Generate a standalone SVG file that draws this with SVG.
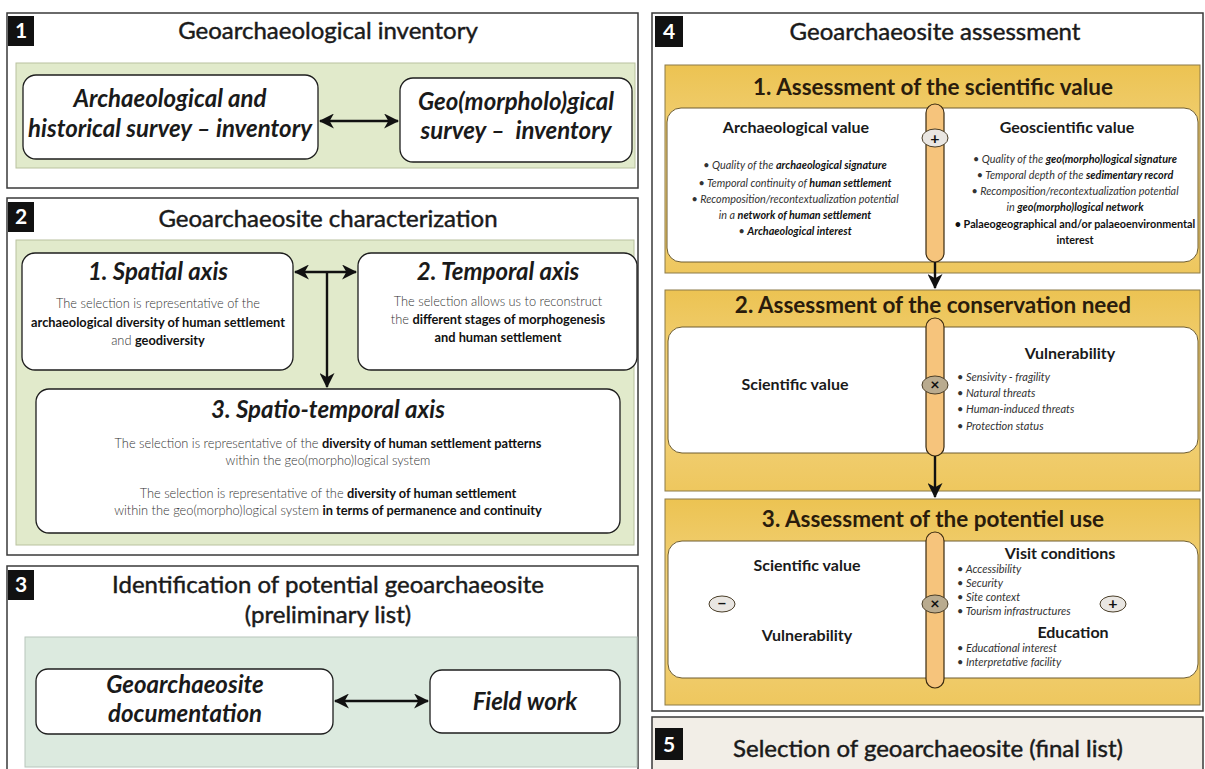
<svg xmlns="http://www.w3.org/2000/svg" width="1205" height="769" viewBox="0 0 1205 769">
<defs>
<marker id="ah" viewBox="0 0 14 14" refX="13" refY="7" markerWidth="15" markerHeight="15" markerUnits="userSpaceOnUse" orient="auto-start-reverse">
<path d="M0,0 L14,7 L0,14 L4,7 z" fill="#111"/>
</marker>
<linearGradient id="gold" x1="0" y1="0" x2="0" y2="1">
<stop offset="0" stop-color="#ecc352"/>
<stop offset="0.5" stop-color="#f3d584"/>
<stop offset="1" stop-color="#eec75e"/>
</linearGradient>
<style>
text{font-family:Lato,"Open Sans","Liberation Sans",sans-serif;fill:#1a1a1a}
.frame{fill:#fff;stroke:#3a3a3a;stroke-width:1.5}
.lbl{fill:#111}
.lbltx{fill:#fff;font-weight:700;font-size:21px;text-anchor:middle}
.ptitle{font-size:24px;text-anchor:middle;stroke:#1a1a1a;stroke-width:0.45}
.green{fill:#e1eacb;stroke:#b9c29f;stroke-width:1}
.teal{fill:#dceadf;stroke:#b8c6bc;stroke-width:1}
.node{fill:#fff;stroke:#1e1e1e;stroke-width:1.3}
.bi{font-weight:700;font-style:italic;font-size:24px;text-anchor:middle}
.body{font-size:12.8px;font-weight:300;text-anchor:middle;fill:#333}
.b{font-weight:700;fill:#111}
.band{fill:url(#gold);stroke:#8c7b48;stroke-width:1}
.wbox{fill:#fff;stroke:#6e5d30;stroke-width:1}
.stitle{font-size:22.5px;font-weight:700;text-anchor:middle;fill:#2a1c0c}
.sub{font-size:16px;font-weight:700;text-anchor:middle;fill:#1a1a1a}
.bul{font-size:11px;font-style:italic;fill:#333}
.bulc{font-size:10.8px;font-style:italic;fill:#333;text-anchor:middle}
.bar{fill:#f6c47c;stroke:#3a2a10;stroke-width:1.2}
.bx{fill:#b9ab8f;stroke:#4a3e28;stroke-width:1}
.bl{fill:#e9e6e2;stroke:#4a3e28;stroke-width:1}
.sym{font-size:16px;font-weight:700;text-anchor:middle;fill:#111}
.con{stroke:#111;stroke-width:2.4;fill:none}
</style>
</defs>
<rect width="1205" height="769" fill="#fff"/>

<!-- Panel 1 -->
<g id="panel1">
<rect class="frame" x="7" y="13" width="631" height="175"/>
<rect class="lbl" x="8" y="16" width="26" height="30"/>
<text class="lbltx" x="21" y="38">1</text>
<text class="ptitle" x="328" y="39">Geoarchaeological inventory</text>
<rect class="green" x="16" y="63" width="619" height="105"/>
</g>
<g id="node-archaeo-survey">
<rect class="node" x="23" y="75" width="295" height="84" rx="13"/>
<text class="bi" x="170" y="107">Archaeological and</text>
<text class="bi" x="170" y="137">historical survey – inventory</text>
</g>
<g id="node-geo-survey">
<rect class="node" x="400" y="78" width="232" height="84" rx="13"/>
<text class="bi" x="516" y="110">Geo(morpholo)gical</text>
<text class="bi" x="516" y="139" xml:space="preserve">survey –  inventory</text>
</g>

<!-- Panel 2 -->
<g id="panel2">
<rect class="frame" x="7" y="198" width="631" height="357"/>
<rect class="lbl" x="8" y="202" width="26" height="30"/>
<text class="lbltx" x="21" y="224">2</text>
<text class="ptitle" x="328" y="227">Geoarchaeosite characterization</text>
<rect class="green" x="16" y="240" width="618" height="305"/>
</g>
<g id="node-spatial">
<rect class="node" x="22" y="253" width="271" height="117" rx="13"/>
<text class="bi" x="158" y="280">1. Spatial axis</text>
<text class="body" x="158" y="308">The selection is representative of the</text>
<text class="body" x="158" y="327"><tspan class="b">archaeological diversity of human settlement</tspan></text>
<text class="body" x="158" y="345">and <tspan class="b">geodiversity</tspan></text>
</g>
<g id="node-temporal">
<rect class="node" x="358" y="253" width="279" height="117" rx="13"/>
<text class="bi" x="498" y="280">2. Temporal axis</text>
<text class="body" x="498" y="306">The selection allows us to reconstruct</text>
<text class="body" x="498" y="324">the <tspan class="b">different stages of morphogenesis</tspan></text>
<text class="body" x="498" y="342"><tspan class="b">and human settlement</tspan></text>
</g>
<g id="node-spatiotemporal">
<rect class="node" x="36" y="389" width="584" height="144" rx="13"/>
<text class="bi" x="328" y="418">3. Spatio-temporal axis</text>
<text class="body" x="328" y="448">The selection is representative of the <tspan class="b">diversity of human settlement patterns</tspan></text>
<text class="body" x="328" y="465">within the geo(morpho)logical system</text>
<text class="body" x="328" y="498">The selection is representative of the <tspan class="b">diversity of human settlement</tspan></text>
<text class="body" x="328" y="515">within the geo(morpho)logical system <tspan class="b">in terms of permanence and continuity</tspan></text>
</g>

<!-- Panel 3 -->
<g id="panel3">
<rect class="frame" x="7" y="566" width="631" height="210"/>
<rect class="lbl" x="8" y="570" width="26" height="30"/>
<text class="lbltx" x="21" y="592">3</text>
<text class="ptitle" x="328" y="593">Identification of potential geoarchaeosite</text>
<text class="ptitle" x="328" y="623">(preliminary list)</text>
<rect class="teal" x="25" y="637" width="612" height="130"/>
</g>
<g id="node-documentation">
<rect class="node" x="36" y="669" width="297" height="65" rx="12"/>
<text class="bi" x="185" y="693">Geoarchaeosite</text>
<text class="bi" x="185" y="722">documentation</text>
</g>
<g id="node-fieldwork">
<rect class="node" x="430" y="670" width="190" height="63" rx="12"/>
<text class="bi" x="525" y="710">Field work</text>
</g>

<!-- Panel 4 -->
<g id="panel4">
<rect class="frame" x="652" y="13" width="551" height="698"/>
<rect class="lbl" x="655" y="16" width="28" height="31"/>
<text class="lbltx" x="669" y="39">4</text>
<text class="ptitle" x="935" y="40">Geoarchaeosite assessment</text>
</g>
<g id="sec-scientific">
<rect class="band" x="665" y="65" width="535" height="208"/>
<text class="stitle" x="933" y="95">1. Assessment of the scientific value</text>
<rect class="wbox" x="667" y="108" width="531" height="154" rx="14"/>
<text class="sub" x="796" y="133">Archaeological value</text>
<text class="bulc" x="795" y="169">• Quality of the <tspan class="b">archaeological signature</tspan></text>
<text class="bulc" x="795" y="187">• Temporal continuity of <tspan class="b">human settlement</tspan></text>
<text class="bulc" x="795" y="203">• Recomposition/recontextualization potential</text>
<text class="bulc" x="795" y="219">in a <tspan class="b">network of human settlement</tspan></text>
<text class="bulc" x="795" y="235">• <tspan class="b">Archaeological interest</tspan></text>
<text class="sub" x="1067" y="133">Geoscientific value</text>
<text class="bulc" x="1075" y="163">• Quality of the <tspan class="b">geo(morpho)logical signature</tspan></text>
<text class="bulc" x="1075" y="179">• Temporal depth of the <tspan class="b">sedimentary record</tspan></text>
<text class="bulc" x="1075" y="195">• Recomposition/recontextualization potential</text>
<text class="bulc" x="1075" y="211">in <tspan class="b">geo(morpho)logical network</tspan></text>
<text class="bulc" x="1075" y="228"><tspan class="b" font-style="normal">• Palaeogeographical and/or palaeoenvironmental</tspan></text>
<text class="bulc" x="1075" y="244"><tspan class="b" font-style="normal">interest</tspan></text>
<rect class="bar" x="926" y="104" width="18" height="158" rx="9"/>
<ellipse class="bl" cx="935" cy="138" rx="13" ry="9"/>
<text class="sym" x="935" y="144">+</text>
</g>
<g id="sec-conservation">
<rect class="band" x="665" y="290" width="535" height="201"/>
<text class="stitle" x="933" y="313">2. Assessment of the conservation need</text>
<rect class="wbox" x="668" y="327" width="530" height="126" rx="14"/>
<text class="sub" x="795" y="390">Scientific value</text>
<text class="sub" x="1070" y="359" font-size="17">Vulnerability</text>
<text class="bul" x="957" y="381">• Sensivity  - fragility</text>
<text class="bul" x="957" y="397">• Natural threats</text>
<text class="bul" x="957" y="413">• Human-induced threats</text>
<text class="bul" x="957" y="430">• Protection status</text>
<rect class="bar" x="926" y="318" width="18" height="138" rx="9"/>
<ellipse class="bx" cx="935" cy="385" rx="13" ry="9"/>
<text class="sym" x="935" y="390">×</text>
</g>
<g id="sec-use">
<rect class="band" x="665" y="499" width="535" height="206"/>
<text class="stitle" x="933" y="527">3. Assessment of the potentiel use</text>
<rect class="wbox" x="668" y="541" width="530" height="137" rx="14"/>
<text class="sub" x="807" y="571">Scientific value</text>
<text class="sub" x="807" y="641">Vulnerability</text>
<ellipse class="bl" cx="722" cy="604" rx="13" ry="8"/>
<text class="sym" x="722" y="609">−</text>
<text class="sub" x="1060" y="559">Visit conditions</text>
<text class="bul" x="957" y="573">• Accessibility</text>
<text class="bul" x="957" y="587">• Security</text>
<text class="bul" x="957" y="601">• Site context</text>
<text class="bul" x="957" y="615">• Tourism infrastructures</text>
<ellipse class="bl" cx="1113" cy="604" rx="13" ry="8"/>
<text class="sym" x="1113" y="609">+</text>
<text class="sub" x="1073" y="638">Education</text>
<text class="bul" x="957" y="652">• Educational interest</text>
<text class="bul" x="957" y="666">• Interpretative facility</text>
<rect class="bar" x="926" y="532" width="18" height="156" rx="9"/>
<ellipse class="bx" cx="935" cy="604" rx="13" ry="9"/>
<text class="sym" x="935" y="609">×</text>
</g>

<!-- Panel 5 -->
<g id="panel5">
<rect x="652" y="717" width="551" height="60" fill="#f2eee7" stroke="#3a3a3a" stroke-width="1.5"/>
<rect class="lbl" x="655" y="728" width="28" height="32"/>
<text class="lbltx" x="669" y="752">5</text>
<text class="ptitle" x="928" y="757">Selection of geoarchaeosite (final list)</text>
</g>

<!-- Connectors -->
<g id="connectors">
<line class="con" x1="320" y1="121" x2="398" y2="121" marker-start="url(#ah)" marker-end="url(#ah)"/>
<line class="con" x1="295" y1="272" x2="356" y2="272" marker-start="url(#ah)" marker-end="url(#ah)"/>
<line class="con" x1="327" y1="272" x2="327" y2="387" marker-end="url(#ah)"/>
<line class="con" x1="335" y1="701" x2="428" y2="701" marker-start="url(#ah)" marker-end="url(#ah)"/>
<line class="con" x1="935" y1="262" x2="935" y2="288" marker-end="url(#ah)"/>
<line class="con" x1="935" y1="456" x2="935" y2="497" marker-end="url(#ah)"/>
</g>
</svg>
